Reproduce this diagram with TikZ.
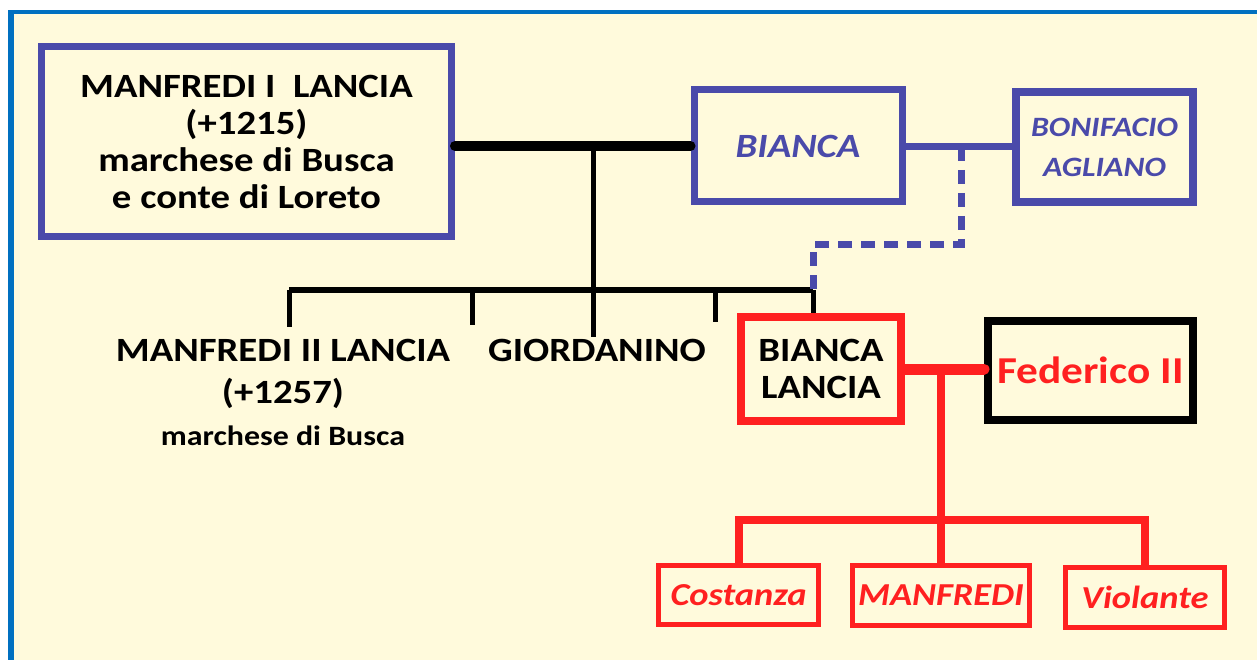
\documentclass[tikz,border=0pt]{standalone}
\usepackage{fontspec}
\setmainfont{Carlito}[FakeStretch=1.14]
\usepackage{xcolor}
\usepackage{tikz}
\usetikzlibrary{calc}

\definecolor{frameblue}{HTML}{0070C0}
\definecolor{cream}{HTML}{FFFADC}
\definecolor{famblue}{HTML}{4A4AAA}
\definecolor{famred}{HTML}{FF2020}

\tikzset{
  famtext/.style={align=center, inner sep=2pt, font=\bfseries\fontsize{34}{37}\selectfont},
  bluebox/.style={famtext, draw=famblue, line width=7pt, text=famblue},
  redbox/.style={famtext, draw=famred, line width=8pt},
  blackbox/.style={famtext, draw=black, line width=8pt, text=famred},
  kidbox/.style={famtext, draw=famred, line width=5pt, text=famred,
    font=\bfseries\itshape\fontsize{32}{36}\selectfont},
  blackline/.style={draw=black, line width=5pt},
  blueline/.style={draw=famblue, line width=7pt},
  redline/.style={draw=famred, line width=8pt}
}

\begin{document}
\begin{tikzpicture}[x=1pt,y=-1pt]
  \useasboundingbox (0,0) rectangle (1257,660);
  \fill[frameblue] (8,10) rectangle (1257,660);
  \fill[cream] (14,14) rectangle (1257,660);

  \node[bluebox, text=black, minimum width=410pt, minimum height=190pt] (m1) at (246.5,141.5)
    {MANFREDI I~~LANCIA\\(+1215)\\marchese di Busca\\e conte di Loreto};
  \node[bluebox, font=\bfseries\itshape\fontsize{34}{37}\selectfont,
    minimum width=208pt, minimum height=112pt] (bianca) at (798,146) {BIANCA};
  \node[bluebox, font=\bfseries\itshape\fontsize{28}{40}\selectfont, line width=8pt,
    minimum width=177pt, minimum height=110pt] (bonif) at (1104.5,147) {BONIFACIO\\AGLIANO};

  \node[famtext, anchor=north, font=\bfseries\fontsize{34}{42}\selectfont] (m2) at (283,337)
    {MANFREDI II LANCIA\\(+1257)\\{\fontsize{28}{30}\selectfont marchese di Busca}};
  \node[famtext] (giord) at (597,350) {GIORDANINO};
  \node[redbox, minimum width=160pt, minimum height=104pt] (biancal) at (821,369) {BIANCA\\LANCIA};
  \node[blackbox, font=\bfseries\fontsize{38}{44}\selectfont,
    minimum width=205pt, minimum height=99pt] (fed) at (1090.5,370.5) {Federico II};

  \node[kidbox, minimum width=160pt, minimum height=59pt] (cost) at (738.5,595) {Costanza};
  \node[kidbox, minimum width=177pt, minimum height=60pt] (manf) at (941,595.5) {MANFREDI};
  \node[kidbox, minimum width=159pt, minimum height=60pt] (viol) at (1145,597.5) {Violante};

  \coordinate (pj) at (593,147);
  \coordinate (barl) at (289,290);
  \coordinate (barr) at (813,290);
  \coordinate (tk1) at (289,327);
  \coordinate (tk2) at (472,325);
  \coordinate (tk4) at (715,322);
  \coordinate (cj) at (961,147);
  \coordinate (dk) at (813,245);
  \coordinate (rj) at (941,368);
  \coordinate (rbar) at (941,520);

  \draw[blackline, line width=10pt, line cap=round] (m1.east |- bianca.west) -- (bianca.west);
  \draw[blackline] (pj) -- (pj |- giord.north);
  \draw[blackline, line width=6pt] (barl) -- (barr);
  \draw[blackline] (barl) -- (tk1);
  \draw[blackline] (tk2 |- barl) -- (tk2);
  \draw[blackline] (tk4 |- barl) -- (tk4);
  \draw[blackline] (barr) -- (barr |- biancal.north);

  \draw[blueline] (bianca.east |- bonif.west) -- (bonif.west);
  \draw[blueline, dash pattern=on 14pt off 9pt] (cj) |- (dk) -- (barr);

  \draw[redline, line width=11pt, line cap=round] (biancal.east) -- (fed.west |- biancal.east);
  \draw[redline] (rj) -- (manf.north);
  \draw[redline] (cost.north) -- (cost.north |- rbar) -- (viol.north |- rbar) -- (viol.north);
\end{tikzpicture}
\end{document}
